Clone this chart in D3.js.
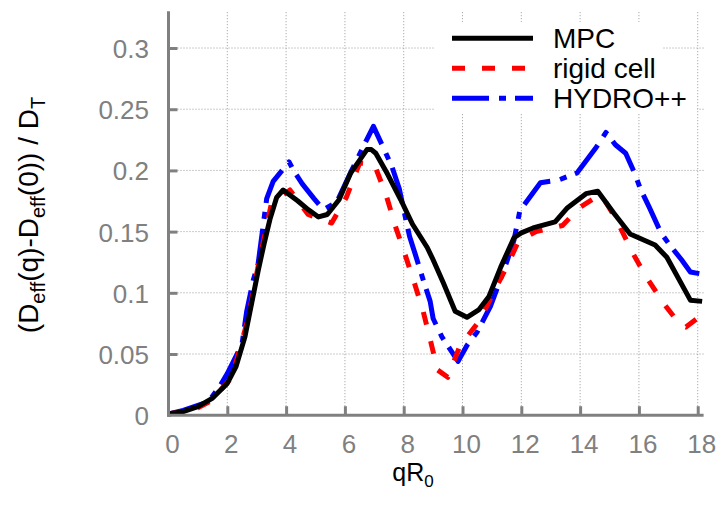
<!DOCTYPE html>
<html>
<head>
<meta charset="utf-8">
<script src="https://cdn.jsdelivr.net/npm/d3@7/dist/d3.min.js"></script>
<style>
  html, body { margin: 0; padding: 0; background: #fff; }
  svg { display: block; font-family: "Liberation Sans", Arial, Helvetica, sans-serif; }
</style>
</head>
<body>
<svg id="chart" width="719" height="508"></svg>
<script>
// ---- data ----
const xTicks = [0, 2, 4, 6, 8, 10, 12, 14, 16, 18];
const yTicks = [0, 0.05, 0.1, 0.15, 0.2, 0.25, 0.3];
const yTickLabels = ["0", "0.05", "0.1", "0.15", "0.2", "0.25", "0.3"];

const seriesNames = ["MPC", "rigid cell", "HYDRO++"];

const mpcQ = [0, 0.5, 1.0, 1.5, 2.0, 2.3, 2.6, 3.05, 3.25, 3.45, 3.68, 3.9, 4.4, 4.75, 5.1, 5.4, 5.8, 6.2, 6.75, 6.9, 7.05, 7.45, 7.9, 8.3, 8.8, 9.0, 9.35, 9.75, 10.15, 10.55, 10.9, 11.3, 11.75, 12.0, 12.4, 13.15, 13.55, 14.2, 14.6, 15.15, 15.7, 16.55, 16.95, 17.75, 18.15];
const mpcD = [0.001, 0.003, 0.007, 0.014, 0.026, 0.040, 0.064, 0.118, 0.140, 0.160, 0.178, 0.184, 0.175, 0.168, 0.162, 0.164, 0.176, 0.198, 0.217, 0.217, 0.214, 0.197, 0.176, 0.156, 0.137, 0.127, 0.108, 0.085, 0.080, 0.086, 0.097, 0.121, 0.145, 0.149, 0.153, 0.158, 0.169, 0.181, 0.183, 0.165, 0.148, 0.139, 0.129, 0.094, 0.093];

const rigidQ = [0, 0.5, 1.0, 1.47, 2.15, 2.7, 3.05, 3.5, 4.13, 4.75, 5.55, 6.05, 6.5, 7.0, 7.4, 7.75, 8.05, 8.35, 8.65, 8.9, 9.15, 9.5, 9.9, 10.6, 11.05, 11.5, 11.9, 12.5, 13.4, 14.0, 14.6, 14.8, 15.25, 15.8, 16.25, 16.85, 17.4, 17.6, 18.2];
const rigidD = [0.001, 0.003, 0.006, 0.012, 0.031, 0.078, 0.122, 0.173, 0.184, 0.164, 0.157, 0.178, 0.206, 0.205, 0.180, 0.152, 0.131, 0.109, 0.086, 0.062, 0.037, 0.031, 0.056, 0.078, 0.100, 0.121, 0.142, 0.150, 0.155, 0.170, 0.179, 0.177, 0.159, 0.132, 0.113, 0.091, 0.074, 0.072, 0.083];

const hydroQ = [0, 0.5, 1.0, 1.35, 1.7, 2.0, 2.5, 2.66, 2.88, 3.05, 3.34, 3.56, 4.1, 4.25, 4.55, 4.95, 5.27, 5.72, 6.23, 6.74, 6.97, 7.3, 7.6, 7.85, 8.0, 8.2, 8.4, 8.67, 8.9, 9.0, 9.3, 9.85, 10.15, 10.5, 10.95, 11.2, 11.5, 11.75, 11.95, 12.65, 13.25, 13.9, 14.55, 14.88, 15.2, 15.55, 15.85, 16.05, 16.35, 16.75, 17.05, 17.45, 17.75, 18.2];
const hydroD = [0.001, 0.004, 0.008, 0.011, 0.022, 0.034, 0.058, 0.085, 0.110, 0.124, 0.177, 0.191, 0.207, 0.200, 0.189, 0.177, 0.168, 0.174, 0.200, 0.225, 0.236, 0.219, 0.203, 0.185, 0.168, 0.146, 0.131, 0.110, 0.093, 0.079, 0.064, 0.044, 0.057, 0.068, 0.089, 0.105, 0.125, 0.143, 0.167, 0.190, 0.192, 0.198, 0.219, 0.231, 0.221, 0.214, 0.198, 0.185, 0.170, 0.149, 0.139, 0.127, 0.117, 0.115];

// ---- layout ----
const svg = d3.select("#chart");
const x = d3.scaleLinear().domain([0, 18.2]).range([168.5, 703.6]);
const y = d3.scaleLinear().domain([0, 0.33]).range([415.2, 11.3]);
const axisGray = "#808080";

// grid
const grid = svg.append("g");
grid.selectAll("line.vx").data(xTicks.filter(d => d > 0)).join("line")
  .attr("x1", d => x(d)).attr("x2", d => x(d))
  .attr("y1", y(0)).attr("y2", y(0.33))
  .attr("stroke", "#999").attr("stroke-width", 1).attr("stroke-dasharray", "1,2");
grid.selectAll("line.hy").data(yTicks.filter(d => d > 0)).join("line")
  .attr("y1", d => y(d)).attr("y2", d => y(d))
  .attr("x1", x(0)).attr("x2", x(18.2))
  .attr("stroke", "#999").attr("stroke-width", 1).attr("stroke-dasharray", "1,2");

// legend background (hides grid behind the key)
const legendRows = [38.3, 68.3, 98.3];
svg.append("rect").attr("x", 435).attr("y", 22).attr("width", 227).attr("height", 91).attr("fill", "#fff");
svg.append("rect").attr("x", 435).attr("y", 84).attr("width", 262).attr("height", 30).attr("fill", "#fff");

// series
const series = [
  { name: seriesNames[0], q: mpcQ, d: mpcD, color: "#000000", dash: null },
  { name: seriesNames[1], q: rigidQ, d: rigidD, color: "#ff0000", dash: "13,17" },
  { name: seriesNames[2], q: hydroQ, d: hydroD, color: "#0000ff", dash: "37,10,7,9" }
];
const line = d3.line().x(p => x(p[0])).y(p => y(p[1]));
svg.append("defs").append("clipPath").attr("id", "clip")
  .append("rect").attr("x", x(0)).attr("y", 0).attr("width", 540).attr("height", y(0) + 2);

const plot = svg.append("g").attr("clip-path", "url(#clip)");
series.slice().reverse().forEach(s => {
  plot.append("path")
    .datum(s.q.map((q, i) => [q, s.d[i]]))
    .attr("d", line)
    .attr("fill", "none")
    .attr("stroke", s.color)
    .attr("stroke-width", 5)
    .attr("stroke-linejoin", "round")
    .attr("stroke-dasharray", s.dash);
});

// axes
const xAxis = d3.axisBottom(x).tickValues(xTicks.filter(d => d > 0)).tickSize(-9).tickFormat("");
const yAxis = d3.axisLeft(y).tickValues(yTicks.filter(d => d > 0)).tickSize(-9).tickFormat("");
const gx = svg.append("g").attr("transform", `translate(0,${y(0)})`).call(xAxis);
const gy = svg.append("g").attr("transform", `translate(${x(0)},0)`).call(yAxis);
[gx, gy].forEach(g => {
  g.select(".domain").remove();
  g.selectAll(".tick line").attr("stroke", axisGray).attr("stroke-width", 3);
});
svg.append("line").attr("x1", x(0)).attr("x2", x(0)).attr("y1", y(0.33)).attr("y2", y(0) + 1.5)
  .attr("stroke", axisGray).attr("stroke-width", 3);
svg.append("line").attr("x1", x(0) - 1.5).attr("x2", x(18.2)).attr("y1", y(0)).attr("y2", y(0))
  .attr("stroke", axisGray).attr("stroke-width", 3);

// tick labels
svg.append("g").selectAll("text").data(xTicks).join("text")
  .attr("x", d => x(d) + 4).attr("y", 453)
  .attr("text-anchor", "middle")
  .attr("font-size", 26).attr("fill", axisGray).text(d => d);
svg.append("g").selectAll("text").data(yTicks).join("text")
  .attr("x", 149).attr("y", d => y(d) + 1)
  .attr("text-anchor", "end").attr("dominant-baseline", "central")
  .attr("font-size", 26).attr("fill", axisGray).text((d, i) => yTickLabels[i]);

// axis titles
const xt = svg.append("text").attr("x", 413).attr("y", 481).attr("text-anchor", "middle")
  .attr("font-size", 25).attr("fill", "#000");
xt.append("tspan").text("qR");
xt.append("tspan").attr("font-size", 17).attr("dy", 6).text("0");

const yt = svg.append("text").attr("transform", "translate(38,215) rotate(-90)")
  .attr("text-anchor", "middle").attr("font-size", 28).attr("fill", "#000");
yt.append("tspan").text("(D");
yt.append("tspan").attr("font-size", 20).attr("dy", 7).text("eff");
yt.append("tspan").attr("dy", -7).text("(q)-D");
yt.append("tspan").attr("font-size", 20).attr("dy", 7).text("eff");
yt.append("tspan").attr("dy", -7).text("(0)) / D");
yt.append("tspan").attr("font-size", 20).attr("dy", 7).text("T");

// legend
const lg = svg.append("g");
series.forEach((s, i) => {
  lg.append("line").attr("x1", 452).attr("x2", 533)
    .attr("y1", legendRows[i]).attr("y2", legendRows[i])
    .attr("stroke", s.color).attr("stroke-width", 5).attr("stroke-dasharray", s.dash);
  lg.append("text").attr("x", 553).attr("y", legendRows[i] + 10)
    .attr("font-size", 28).attr("fill", "#000").text(s.name);
});
</script>
</body>
</html>
